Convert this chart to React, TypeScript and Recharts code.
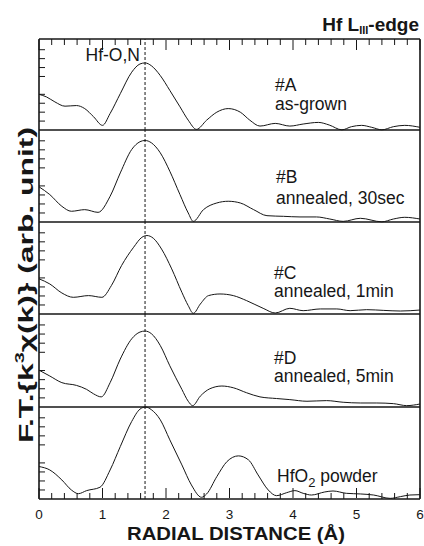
import React from "react";
import { LineChart, Line, XAxis, YAxis, ReferenceLine } from "recharts";

// radial distance (Å) and |FT| magnitude (arb.)
const rA = [0, 0.12, 0.25, 0.41, 0.59, 0.72, 0.86, 1.0, 1.12, 1.28, 1.46, 1.59, 1.67, 1.77, 1.91, 2.06, 2.22, 2.35, 2.48, 2.64, 2.8, 2.98, 3.17, 3.32, 3.48, 3.72, 3.95, 4.16, 4.4, 4.57, 4.77, 4.92, 5.08, 5.24, 5.4, 5.58, 5.76, 6.0];
const ftA = [4.0, 3.7, 3.15, 2.67, 2.74, 2.4, 1.48, 0.52, 1.85, 4.07, 6.48, 7.4, 7.52, 7.2, 6.1, 4.44, 2.6, 1.1, 0.07, 1.1, 2.0, 2.4, 2.0, 1.1, 0.44, 0.74, 0.44, 0.67, 0.85, 0.56, 0.02, 0.37, 0.52, 0.3, 0.02, 0.37, 0.52, 0.3];

const rB = [0, 0.17, 0.36, 0.51, 0.72, 0.93, 1.12, 1.28, 1.46, 1.59, 1.67, 1.77, 1.91, 2.06, 2.22, 2.35, 2.43, 2.59, 2.8, 2.98, 3.17, 3.38, 3.59, 3.85, 4.11, 4.37, 4.58, 4.79, 5.06, 5.4, 5.58, 5.76, 6.0];
const ftB = [3.9, 3.04, 1.74, 1.19, 1.37, 1.07, 2.85, 5.44, 8.04, 8.9, 9.04, 8.78, 7.67, 5.63, 3.04, 1.0, 0.07, 1.37, 2.11, 2.3, 2.11, 1.37, 0.7, 0.63, 0.56, 0.56, 0.33, 0.07, 0.41, 0.02, 0.33, 0.52, 0.33];

const rC = [0, 0.17, 0.36, 0.54, 0.78, 0.99, 1.14, 1.3, 1.49, 1.62, 1.7, 1.8, 1.93, 2.09, 2.25, 2.35, 2.43, 2.54, 2.67, 2.85, 3.06, 3.27, 3.53, 3.72, 3.95, 4.16, 4.43, 4.69, 4.9, 5.16, 5.43, 5.69, 6.0];
const ftC = [3.9, 3.33, 2.33, 1.85, 2.04, 1.85, 3.15, 5.37, 7.4, 8.5, 8.7, 8.4, 7.2, 5.0, 2.4, 0.93, 0.07, 1.1, 2.04, 2.22, 2.04, 1.48, 0.63, 0.11, 0.63, 0.37, 0.56, 0.56, 0.37, 0.48, 0.4, 0.33, 0.44];

const rD = [0, 0.17, 0.36, 0.59, 0.75, 0.86, 0.98, 1.12, 1.28, 1.46, 1.59, 1.67, 1.77, 1.91, 2.06, 2.25, 2.35, 2.42, 2.54, 2.69, 2.88, 3.06, 3.27, 3.48, 3.74, 3.95, 4.22, 4.53, 4.79, 5.06, 5.32, 5.58, 5.79, 6.0];
const ftD = [4.04, 3.4, 2.67, 2.37, 1.93, 1.44, 1.11, 2.67, 5.26, 7.48, 8.22, 8.33, 8.04, 6.74, 4.52, 1.93, 0.63, 0.15, 1.19, 2.0, 2.3, 2.11, 1.56, 1.11, 0.93, 0.81, 0.63, 0.7, 0.52, 0.44, 0.44, 0.37, 0.15, 0.33];

const rHfO2 = [0, 0.17, 0.36, 0.51, 0.62, 0.75, 0.96, 1.12, 1.28, 1.46, 1.59, 1.68, 1.77, 1.91, 2.06, 2.25, 2.4, 2.56, 2.64, 2.8, 2.96, 3.14, 3.3, 3.45, 3.61, 3.74, 3.9, 4.03, 4.16, 4.29, 4.5, 4.63, 4.84, 5.06, 5.27, 5.53, 5.69, 5.84, 6.0];
const ftHfO2 = [3.6, 3.22, 2.11, 1.0, 0.59, 0.93, 1.3, 3.22, 5.81, 8.6, 9.96, 10.2, 9.9, 8.78, 6.56, 3.78, 1.56, 0.19, 0.56, 2.48, 4.15, 4.78, 4.33, 2.67, 1.0, 0.37, 0.7, 0.93, 0.63, 0.44, 0.78, 0.89, 0.63, 0.56, 0.44, 0.07, 0.26, 0.44, 0.48];

const xMajor = [0, 1, 2, 3, 4, 5, 6];
const xMinor = [0.2, 0.4, 0.6, 0.8, 1.2, 1.4, 1.6, 1.8, 2.2, 2.4, 2.6, 2.8, 3.2, 3.4, 3.6, 3.8, 4.2, 4.4, 4.6, 4.8, 5.2, 5.4, 5.6, 5.8];
const yMajor = [0, 5, 10];
const yMinor = [1, 2, 3, 4, 6, 7, 8, 9];
const hfOPeak = 1.67;

const INK = "#161616";
const FONT = '"Liberation Sans", Arial, Helvetica, sans-serif';
const PAD = 2;

const panels = [
  { key: "A", r: rA, ft: ftA, top: 39, height: 91 },
  { key: "B", r: rB, ft: ftB, top: 130, height: 92 },
  { key: "C", r: rC, ft: ftC, top: 222, height: 92 },
  { key: "D", r: rD, ft: ftD, top: 314, height: 93 },
  { key: "E", r: rHfO2, ft: ftHfO2, top: 407, height: 92 },
];

// tick marks only, no tick text (tick={false} would drop the marks too)
const noLabel = () => <g />;

function Panel({ r, ft, top, height, first, last }: { r: number[]; ft: number[]; top: number; height: number; first: boolean; last: boolean }) {
  const data = r.map((x, i) => ({ r: x, ft: ft[i] }));
  const labelSpace = last ? 40 : 0;
  const frame = { stroke: INK, strokeWidth: 1.6 };
  const tickLn = { stroke: INK, strokeWidth: 1 };
  return (
    <div style={{ position: "absolute", left: 0, top: top - PAD }}>
      <LineChart width={424} height={height + PAD * 2 + labelSpace} data={data} margin={{ top: PAD, right: 4, bottom: PAD, left: 39 }}>
        <XAxis xAxisId="b" dataKey="r" type="number" domain={[0, 6]} orientation="bottom" mirror height={1}
          ticks={xMinor} interval={0} tick={noLabel} tickSize={6} tickLine={last ? tickLn : false} axisLine={frame} />
        {last && (
          <XAxis xAxisId="bM" dataKey="r" type="number" domain={[0, 6]} orientation="bottom" mirror height={1}
            ticks={xMajor} interval={0} tick={noLabel} tickSize={10} tickLine={tickLn} axisLine={false} />
        )}
        {last && (
          <XAxis xAxisId="lab" dataKey="r" type="number" domain={[0, 6]} orientation="bottom" height={labelSpace}
            ticks={xMajor} interval={0} tickLine={false} axisLine={false} tickSize={0} tickMargin={10}
            tick={{ fill: INK, fontSize: 13.5, fontFamily: FONT }} />
        )}
        {first && (
          <XAxis xAxisId="t" dataKey="r" type="number" domain={[0, 6]} orientation="top" mirror height={1}
            ticks={xMinor} interval={0} tick={noLabel} tickSize={6} tickLine={tickLn} axisLine={frame} />
        )}
        {first && (
          <XAxis xAxisId="tM" dataKey="r" type="number" domain={[0, 6]} orientation="top" mirror height={1}
            ticks={xMajor} interval={0} tick={noLabel} tickSize={10} tickLine={tickLn} axisLine={false} />
        )}
        <YAxis yAxisId="l" type="number" domain={[0, 10.2]} orientation="left" mirror width={1}
          ticks={yMinor} interval={0} tick={noLabel} tickSize={6} tickLine={tickLn} axisLine={frame} />
        <YAxis yAxisId="lM" type="number" domain={[0, 10.2]} orientation="left" mirror width={1}
          ticks={yMajor} interval={0} tick={noLabel} tickSize={10} tickLine={tickLn} axisLine={false} />
        <YAxis yAxisId="r" type="number" domain={[0, 10.2]} orientation="right" mirror width={1}
          ticks={yMinor} interval={0} tick={noLabel} tickSize={6} tickLine={tickLn} axisLine={frame} />
        <YAxis yAxisId="rM" type="number" domain={[0, 10.2]} orientation="right" mirror width={1}
          ticks={yMajor} interval={0} tick={noLabel} tickSize={10} tickLine={tickLn} axisLine={false} />
        <ReferenceLine xAxisId="b" yAxisId="l" x={hfOPeak} stroke={INK} strokeWidth={1} strokeDasharray="3 2" />
        <Line xAxisId="b" yAxisId="l" dataKey="ft" type="monotone" stroke={INK} strokeWidth={1} dot={false} isAnimationActive={false} />
      </LineChart>
    </div>
  );
}

export default function App() {
  return (
    <div style={{ position: "absolute", left: 0, top: 0, width: 424, height: 546, background: "#fff", fontFamily: FONT }}>
      {panels.map((p, i) => (
        <Panel key={p.key} r={p.r} ft={p.ft} top={p.top} height={p.height} first={i === 0} last={i === panels.length - 1} />
      ))}
      <svg width={424} height={546} style={{ position: "absolute", left: 0, top: 0, pointerEvents: "none" }} fontFamily={FONT} fill={INK}>
        <text x={419} y={31} textAnchor="end" fontWeight="bold" fontSize={19}>
          Hf L<tspan fontSize={11} dy={3}>III</tspan><tspan dy={-3}>-edge</tspan>
        </text>
        <text x={140} y={60.5} textAnchor="end" fontSize={17.5}>Hf-O,N</text>

        <text x={275} y={91} fontSize={17.5}>#A</text>
        <text x={275} y={110} fontSize={17.5}>as-grown</text>
        <text x={276} y={183} fontSize={17.5}>#B</text>
        <text x={276} y={204} fontSize={17.5}>annealed, 30sec</text>
        <text x={274} y={278.5} fontSize={17.5}>#C</text>
        <text x={274} y={297} fontSize={17.5}>annealed, 1min</text>
        <text x={274} y={363.5} fontSize={17.5}>#D</text>
        <text x={274} y={382} fontSize={17.5}>annealed, 5min</text>
        <text x={277} y={481.5} fontSize={17.5}>
          HfO<tspan fontSize={13} dy={5}>2</tspan><tspan dy={-5}> powder</tspan>
        </text>

        <text x={236} y={540} textAnchor="middle" fontWeight="bold" fontSize={18} textLength={218} lengthAdjust="spacingAndGlyphs">
          RADIAL DISTANCE (Å)
        </text>
        <text transform="translate(33,285) rotate(-90)" textAnchor="middle" fontWeight="bold" fontSize={21} textLength={316} lengthAdjust="spacingAndGlyphs">
          F.T.{"{"}k<tspan fontSize={13} dy={-9}>3</tspan><tspan dy={9}>χ(k){"}"} (arb. unit)</tspan>
        </text>
      </svg>
    </div>
  );
}
